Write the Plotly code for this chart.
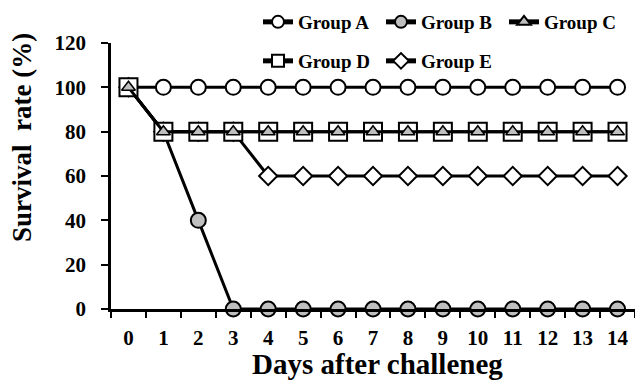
import plotly.graph_objects as go

days = [str(d) for d in range(15)]
group_a = [100] * 15
group_b = [100, 80, 40, 0, 0, 0, 0, 0, 0, 0, 0, 0, 0, 0, 0]
group_c = [100, 80, 80, 80, 80, 80, 80, 80, 80, 80, 80, 80, 80, 80, 80]
group_d = [100, 80, 80, 80, 80, 80, 80, 80, 80, 80, 80, 80, 80, 80, 80]
group_e = [100, 80, 80, 80, 60, 60, 60, 60, 60, 60, 60, 60, 60, 60, 60]

FONT = "Liberation Serif"
GRAY = "#bfbfbf"

fig = go.Figure()

def add(name, y, symbol, size, fill, legend, rank, lw=2):
    fig.add_trace(go.Scatter(
        x=days, y=y, name=name, mode="lines+markers",
        line=dict(color="black", width=3),
        marker=dict(symbol=symbol, size=size, color=fill,
                    line=dict(color="black", width=lw)),
        legend=legend, legendrank=rank, cliponaxis=False,
    ))

add("Group A", group_a, "circle", 15, "white", "legend", 1)
add("Group B", group_b, "circle", 15, GRAY, "legend", 2)
add("Group E", group_e, "diamond", 14, "white", "legend2", 5)
add("Group D", group_d, "square", 18, "white", "legend2", 4)
add("Group C", group_c, "triangle-up", 12, GRAY, "legend", 3, lw=1.5)

legfont = dict(family=FONT, size=19, color="black", weight="bold")

fig.update_layout(
    width=635, height=382,
    margin=dict(l=111, r=0, t=43, b=73, autoexpand=False),
    plot_bgcolor="white", paper_bgcolor="white",
    font=dict(family=FONT, color="black"),
    legend=dict(orientation="h", xref="container", yref="container",
                x=258/635, y=1-22/382, xanchor="left", yanchor="middle",
                font=legfont, itemsizing="constant", traceorder="normal",
                bgcolor="rgba(0,0,0,0)", entrywidth=78, tracegroupgap=0),
    legend2=dict(orientation="h", xref="container", yref="container",
                 x=258/635, y=1-61/382, xanchor="left", yanchor="middle",
                 font=legfont, itemsizing="constant", traceorder="normal",
                 bgcolor="rgba(0,0,0,0)", entrywidth=78, tracegroupgap=0),
    xaxis=dict(type="category", categoryorder="array", categoryarray=days,
               range=[-0.5, 14.5],
               tickson="boundaries", ticks="outside", ticklen=6, tickwidth=2,
               tickcolor="black", showline=True, linecolor="black", linewidth=2.5,
               showgrid=False, zeroline=False, automargin=False,
               tickfont=dict(family=FONT, size=21, color="black", weight="bold"),
               ticklabelstandoff=8),
    yaxis=dict(range=[0, 120], dtick=20, ticks="outside", ticklen=7, tickwidth=2,
               tickcolor="black", showline=True, linecolor="black", linewidth=2.5,
               showgrid=False, zeroline=False, automargin=False,
               tickfont=dict(family=FONT, size=21, color="black", weight="bold"),
               ticklabelstandoff=11),
    annotations=[
        dict(text="Survival\u00a0 rate (%)", textangle=-90, xref="paper", yref="paper",
             x=(22-111)/524, y=(309-138)/266, xanchor="center", yanchor="middle",
             showarrow=False,
             font=dict(family=FONT, size=27, color="black", weight="bold")),
        dict(text="Days after challeneg", xref="paper", yref="paper",
             x=(377-111)/524, y=(309-364)/266, xanchor="center", yanchor="middle",
             showarrow=False,
             font=dict(family=FONT, size=29, color="black", weight="bold")),
    ],
)

fig.write_html("out.html", config={"displayModeBar": False},
               post_script="document.body.style.margin='0';")
